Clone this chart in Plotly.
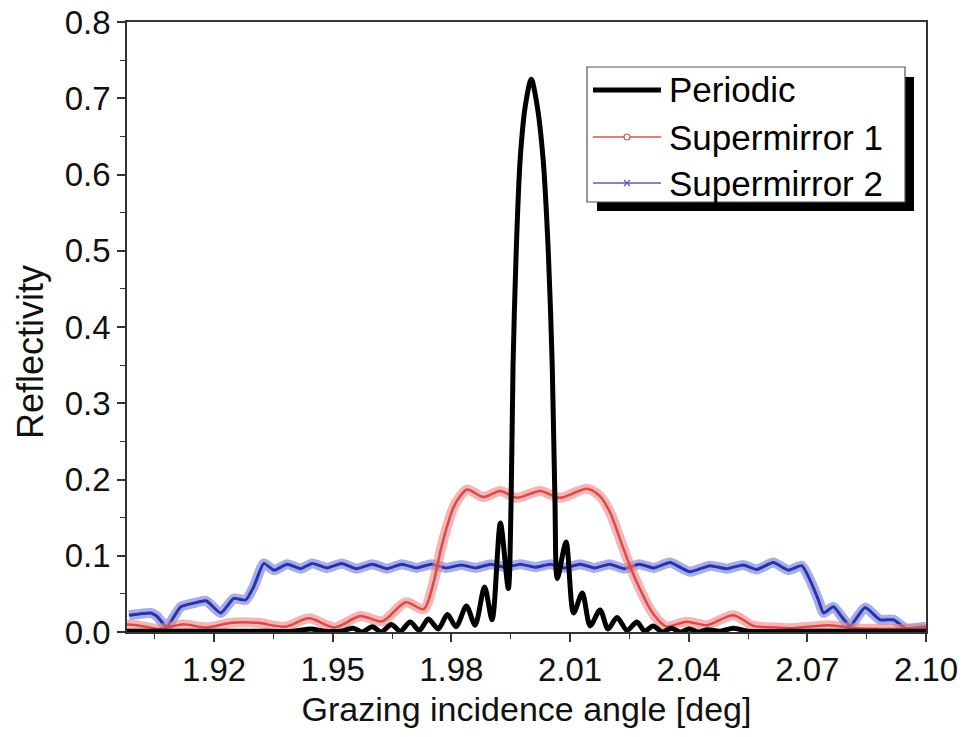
import plotly.graph_objects as go

# ---------------- data ----------------
periodic_x = [1.898, 1.910, 1.920, 1.930, 1.9400, 1.9445, 1.9480, 1.9520,
              1.9552, 1.9575, 1.9600, 1.9623, 1.9648, 1.9671, 1.9696, 1.9719,
              1.9742, 1.9767, 1.9790, 1.9812, 1.9838, 1.9860, 1.9884, 1.9903,
              1.9924, 1.9944, 1.9951, 1.9956, 1.9964, 1.9974, 1.9987, 2.0002,
              2.0017, 2.0032, 2.0045, 2.0055, 2.0062, 2.0068, 2.0090, 2.0109,
              2.0131, 2.0151, 2.0176, 2.0196, 2.0219, 2.0244, 2.0269, 2.0289,
              2.0310, 2.0333, 2.0356, 2.0379, 2.0401, 2.0425, 2.0446, 2.0480,
              2.0513, 2.0550, 2.0650, 2.0800, 2.1000]
periodic_y = [0.001, 0.001, 0.001, 0.001, 0.001, 0.004, 0.001, 0.001,
              0.005, 0.000, 0.007, 0.000, 0.010, 0.001, 0.013, 0.002,
              0.017, 0.004, 0.023, 0.007, 0.034, 0.009, 0.059, 0.016,
              0.143, 0.057, 0.170, 0.350, 0.500, 0.620, 0.690, 0.725,
              0.690, 0.620, 0.500, 0.350, 0.170, 0.070, 0.118, 0.025,
              0.051, 0.008, 0.029, 0.004, 0.019, 0.002, 0.013, 0.001,
              0.008, 0.000, 0.005, 0.000, 0.004, 0.000, 0.003, 0.001,
              0.005, 0.001, 0.001, 0.001, 0.001]

sm1_x = [1.898, 1.9005, 1.906, 1.912, 1.918, 1.9245, 1.931, 1.938, 1.944,
         1.9505, 1.957, 1.9625, 1.9685, 1.973, 1.9755, 1.9772, 1.979, 1.9805,
         1.9822, 1.984, 1.9881, 1.9924, 1.9966, 2.0024, 2.0075, 2.0143,
         2.0176, 2.0202, 2.0227, 2.0252, 2.0278, 2.0305, 2.033, 2.0345,
         2.0395, 2.0446, 2.0513, 2.0564, 2.0614, 2.066, 2.0755, 2.082,
         2.0926, 2.100]
sm1_y = [0.010, 0.009, 0.004, 0.010, 0.006, 0.012, 0.012, 0.007, 0.018,
         0.006, 0.021, 0.014, 0.039, 0.030, 0.065, 0.105, 0.140, 0.163,
         0.178, 0.187, 0.177, 0.185, 0.176, 0.185, 0.176, 0.188,
         0.178, 0.156, 0.121, 0.086, 0.055, 0.028, 0.012, 0.007,
         0.0135, 0.009, 0.022, 0.008, 0.006, 0.005, 0.009, 0.005,
         0.004, 0.004]

sm2_x = [1.8985, 1.9015, 1.904, 1.9055, 1.9080, 1.9116, 1.9150, 1.9180,
         1.9217, 1.9250, 1.9280, 1.9300, 1.9326, 1.9352, 1.9385, 1.9419,
         1.9448, 1.9486, 1.9523, 1.9560, 1.9600, 1.9637, 1.9675, 1.9712,
         1.9750, 1.9787, 1.9825, 1.9862, 1.9900, 1.9937, 1.9975, 2.0012,
         2.0050, 2.0087, 2.0125, 2.0162, 2.0200, 2.0237, 2.0275, 2.0312,
         2.0353, 2.0403, 2.0454, 2.0496, 2.0538, 2.0572, 2.0614, 2.0652,
         2.0686, 2.0707, 2.0728, 2.0741, 2.0766, 2.0787, 2.0808, 2.0846,
         2.0884, 2.0918, 2.0948, 2.1000]
sm2_y = [0.022, 0.024, 0.025, 0.021, 0.007, 0.033, 0.038, 0.041,
         0.025, 0.044, 0.042, 0.059, 0.090, 0.081, 0.089, 0.083,
         0.090, 0.084, 0.090, 0.083, 0.089, 0.083, 0.089, 0.084,
         0.089, 0.084, 0.088, 0.084, 0.089, 0.085, 0.089, 0.085,
         0.089, 0.084, 0.089, 0.084, 0.089, 0.083, 0.089, 0.084,
         0.091, 0.079, 0.087, 0.083, 0.088, 0.082, 0.091, 0.081,
         0.087, 0.068, 0.042, 0.025, 0.033, 0.020, 0.008, 0.032,
         0.016, 0.016, 0.005, 0.007]

series_names = ["Periodic", "Supermirror 1", "Supermirror 2"]
x_ticks = [1.92, 1.95, 1.98, 2.01, 2.04, 2.07, 2.10]
y_ticks = [0.0, 0.1, 0.2, 0.3, 0.4, 0.5, 0.6, 0.7, 0.8]

# ---------------- figure ----------------
FONT = "Liberation Sans, Arial, sans-serif"
PAGE_PAD = 8                      # default body margin of the html page
W, H = 967 - 2 * PAGE_PAD, 737 - 2 * PAGE_PAD
L, R, T, B = 127, 926, 22, 632    # plot area in screen pixels

fig = go.Figure()

# Supermirror 2 (blue band + centre line)
fig.add_trace(go.Scatter(x=sm2_x, y=sm2_y, mode="lines", showlegend=False,
                         line=dict(color="rgba(95,105,215,0.55)", width=10, shape="spline", smoothing=0.5),
                         hoverinfo="skip"))
fig.add_trace(go.Scatter(x=sm2_x, y=sm2_y, mode="lines", name=series_names[2], showlegend=False,
                         line=dict(color="rgb(40,50,170)", width=3, shape="spline", smoothing=0.5)))
# Supermirror 1 (red band + centre line)
fig.add_trace(go.Scatter(x=sm1_x, y=sm1_y, mode="lines", showlegend=False,
                         line=dict(color="rgba(240,130,130,0.6)", width=10, shape="spline", smoothing=0.8),
                         hoverinfo="skip"))
fig.add_trace(go.Scatter(x=sm1_x, y=sm1_y, mode="lines", name=series_names[1], showlegend=False,
                         line=dict(color="rgb(215,75,75)", width=2.5, shape="spline", smoothing=0.8)))
# Periodic (black)
fig.add_trace(go.Scatter(x=periodic_x, y=periodic_y, mode="lines", name=series_names[0], showlegend=False,
                         line=dict(color="black", width=5, shape="spline", smoothing=0.8)))


def px(xp):
    return (xp - L) / (R - L)


def py(yp):
    return (B - yp) / (B - T)


shapes = []
annotations = []
# legend shadow and box
shapes.append(dict(type="rect", xref="paper", yref="paper", x0=px(597), x1=px(914), y0=py(211), y1=py(77),
                   fillcolor="black", line=dict(width=0), layer="above"))
shapes.append(dict(type="rect", xref="paper", yref="paper", x0=px(587), x1=px(905), y0=py(202), y1=py(67),
                   fillcolor="white", line=dict(color="#555", width=1.2), layer="above"))
rows = [90, 137, 183]
colors = ["black", "rgb(215,85,85)", "rgb(90,90,180)"]
widths = [5, 1.5, 1.5]
for i, yy in enumerate(rows):
    shapes.append(dict(type="line", xref="paper", yref="paper", x0=px(593), x1=px(661), y0=py(yy), y1=py(yy),
                       line=dict(color=colors[i], width=widths[i]), layer="above"))
    annotations.append(dict(xref="paper", yref="paper", x=px(667), y=py(yy), text=series_names[i],
                            showarrow=False, xanchor="left", yanchor="middle",
                            font=dict(family=FONT, size=35, color="black")))
# legend marker symbols
shapes.append(dict(type="circle", xref="paper", yref="paper", x0=px(624), x1=px(630), y0=py(140), y1=py(134),
                   fillcolor="white", line=dict(color="rgb(215,85,85)", width=1.2), layer="above"))
shapes.append(dict(type="line", xref="paper", yref="paper", x0=px(624), x1=px(630), y0=py(186), y1=py(180),
                   line=dict(color="rgb(90,90,180)", width=1.2), layer="above"))
shapes.append(dict(type="line", xref="paper", yref="paper", x0=px(624), x1=px(630), y0=py(180), y1=py(186),
                   line=dict(color="rgb(90,90,180)", width=1.2), layer="above"))

# y-axis title (placed as in the reference, slightly below the axis centre)
annotations.append(dict(xref="paper", yref="paper", x=px(31), y=py(352), text="Reflectivity",
                        textangle=-90, showarrow=False, xanchor="center", yanchor="middle",
                        font=dict(family=FONT, size=36, color="#111")))

axis_common = dict(showline=True, linecolor="#333", linewidth=1.5, mirror=True, ticks="outside",
                   ticklen=8, tickwidth=1.5, tickcolor="#333", showgrid=False, zeroline=False,
                   automargin=False, ticklabeloverflow="allow",
                   tickfont=dict(family=FONT, size=33, color="#111"))

fig.update_layout(
    width=W, height=H, plot_bgcolor="white", paper_bgcolor="white",
    margin=dict(l=L - PAGE_PAD, r=W - (R - PAGE_PAD), t=T - PAGE_PAD, b=H - (B - PAGE_PAD), autoexpand=False),
    showlegend=False,
    xaxis=dict(range=[1.898, 2.1], tickmode="array", tickvals=x_ticks,
               ticktext=[f"{v:.2f}" for v in x_ticks],
               minor=dict(dtick=0.015, tick0=1.92, ticks="outside", ticklen=5, tickwidth=1.2, tickcolor="#333"),
               title=dict(text="Grazing incidence angle [deg]", font=dict(family=FONT, size=34, color="#111"),
                          standoff=10),
               **axis_common),
    yaxis=dict(range=[0, 0.8], tickmode="array", tickvals=y_ticks,
               ticktext=[f"{v:.1f}" for v in y_ticks],
               minor=dict(dtick=0.05, tick0=0, ticks="outside", ticklen=5, tickwidth=1.2, tickcolor="#333"),
               **axis_common),
    shapes=shapes, annotations=annotations,
)

fig.write_html("out.html")
